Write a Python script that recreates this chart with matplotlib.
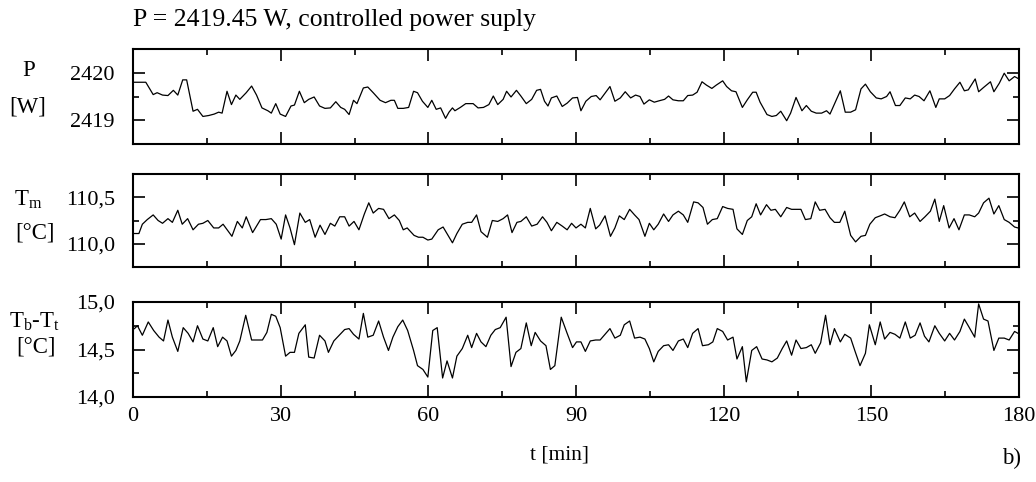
import matplotlib
matplotlib.use("Agg")
import matplotlib.pyplot as plt
from matplotlib.ticker import FixedLocator, FuncFormatter

plt.rcParams["font.family"] = ["Liberation Serif", "DejaVu Serif"]
plt.rcParams["mathtext.default"] = "regular"

# --- data (time in min) ---
t_P = [0.3, 1.2, 2.6, 4.1, 4.9, 6.0, 7.1, 8.2, 9.1, 10.1, 10.9, 12.2, 13.1, 14.2, 15.4, 16.5, 17.4, 18.1,
       19.1, 20.0, 20.9, 21.7, 23.0, 24.1, 25.1, 26.2, 27.4, 28.1, 29.0, 29.9, 31.0, 32.1, 32.8, 33.8, 34.8,
       35.7, 36.8, 37.9, 39.0, 40.1, 41.2, 42.2, 43.0, 43.9, 44.8, 45.5, 46.8, 47.7, 48.8, 50.2, 51.3, 52.4,
       53.1, 53.8, 54.9, 56.0, 57.0, 57.8, 58.8, 59.9, 60.7, 61.6, 62.5, 63.5, 64.2, 64.9, 65.4, 66.5, 67.6,
       69.1, 70.1, 71.2, 72.3, 73.2, 74.1, 75.2, 75.9, 76.8, 77.9, 78.8, 79.9, 81.0, 82.0, 82.8, 83.6, 84.3,
       85.0, 86.1, 87.2, 88.2, 89.3, 90.3, 91.0, 92.0, 93.1, 94.1, 94.9, 95.9, 96.9, 97.9, 99.0, 100.0,
       101.1, 102.1, 103.0, 103.8, 104.9, 105.9, 106.9, 108.0, 108.8, 109.7, 110.8, 111.8, 112.7, 113.7,
       114.6, 115.6, 116.5, 117.6, 118.5, 119.8, 120.6, 121.6, 122.5, 123.8, 124.8, 125.9, 126.6, 127.4,
       128.8, 129.8, 130.7, 131.6, 132.8, 133.6, 134.7, 135.9, 136.8, 137.8, 138.8, 139.9, 140.9, 141.6,
       142.5, 143.7, 144.7, 145.8, 146.8, 147.9, 148.8, 149.8, 151.0, 152.0, 153.1, 153.8, 154.9, 155.8,
       156.9, 157.9, 158.8, 159.7, 160.7, 161.9, 163.1, 163.8, 164.9, 165.9, 166.9, 168.0, 168.9, 169.7,
       171.1, 171.8, 172.8, 174.2, 174.9, 176.0, 177.0, 178.0, 179.1, 179.8]
P_W = [2419.80, 2419.80, 2419.80, 2419.54, 2419.58, 2419.53, 2419.52, 2419.63, 2419.53, 2419.85, 2419.85,
       2419.19, 2419.23, 2419.08, 2419.10, 2419.13, 2419.17, 2419.15, 2419.61, 2419.33, 2419.53, 2419.44,
       2419.58, 2419.72, 2419.53, 2419.26, 2419.20, 2419.15, 2419.35, 2419.13, 2419.08, 2419.30, 2419.32,
       2419.61, 2419.37, 2419.44, 2419.49, 2419.30, 2419.25, 2419.26, 2419.39, 2419.27, 2419.23, 2419.12,
       2419.42, 2419.35, 2419.68, 2419.70, 2419.58, 2419.42, 2419.37, 2419.42, 2419.42, 2419.25, 2419.25,
       2419.27, 2419.61, 2419.58, 2419.40, 2419.27, 2419.42, 2419.23, 2419.26, 2419.04, 2419.17, 2419.26,
       2419.20, 2419.27, 2419.35, 2419.35, 2419.26, 2419.27, 2419.33, 2419.51, 2419.33, 2419.44, 2419.61,
       2419.49, 2419.63, 2419.51, 2419.35, 2419.44, 2419.63, 2419.65, 2419.40, 2419.30, 2419.47, 2419.51,
       2419.29, 2419.36, 2419.47, 2419.48, 2419.20, 2419.40, 2419.50, 2419.52, 2419.43, 2419.57, 2419.71,
       2419.40, 2419.47, 2419.60, 2419.47, 2419.53, 2419.50, 2419.34, 2419.43, 2419.38, 2419.41, 2419.44,
       2419.51, 2419.43, 2419.41, 2419.41, 2419.52, 2419.53, 2419.59, 2419.81, 2419.74, 2419.67, 2419.74,
       2419.83, 2419.71, 2419.62, 2419.60, 2419.27, 2419.43, 2419.59, 2419.59, 2419.38, 2419.12, 2419.08,
       2419.10, 2419.19, 2418.99, 2419.15, 2419.48, 2419.20, 2419.31, 2419.19, 2419.15, 2419.15, 2419.20,
       2419.13, 2419.34, 2419.62, 2419.17, 2419.17, 2419.22, 2419.66, 2419.76, 2419.60, 2419.47, 2419.45,
       2419.50, 2419.60, 2419.31, 2419.31, 2419.47, 2419.45, 2419.53, 2419.50, 2419.41, 2419.62, 2419.27,
       2419.45, 2419.45, 2419.52, 2419.66, 2419.80, 2419.62, 2419.64, 2419.87, 2419.60, 2419.69, 2419.81,
       2419.60, 2419.78, 2419.99, 2419.83, 2419.92, 2419.88]

t_Tm = [0.3, 1.2, 1.9, 2.9, 4.1, 5.1, 6.0, 7.1, 8.0, 9.1, 10.0, 11.1, 12.2, 13.3, 14.2, 15.2, 16.4, 17.4,
        18.3, 20.1, 21.2, 22.2, 23.0, 24.3, 25.9, 27.0, 28.1, 29.1, 30.1, 31.0, 31.9, 32.8, 33.9, 35.0,
        35.9, 37.0, 38.0, 39.0, 40.1, 41.0, 42.0, 43.0, 43.9, 44.9, 45.9, 47.0, 47.9, 48.8, 49.9, 50.9,
        52.0, 53.1, 54.1, 54.9, 55.7, 57.1, 58.0, 58.9, 59.9, 60.7, 62.0, 63.0, 64.0, 64.9, 65.8, 66.9,
        68.0, 68.8, 69.8, 70.7, 72.0, 73.0, 74.1, 75.2, 76.1, 77.0, 78.0, 78.8, 79.9, 81.0, 82.1, 83.2,
        84.1, 85.0, 86.1, 87.2, 88.2, 89.1, 90.0, 91.0, 91.9, 92.9, 94.0, 94.8, 95.9, 97.0, 97.9, 98.8,
        99.8, 100.9, 101.9, 102.8, 104.0, 104.9, 105.8, 106.7, 107.8, 108.8, 109.7, 110.8, 111.8, 112.7,
        113.9, 114.8, 115.8, 116.7, 117.7, 118.7, 119.8, 120.8, 121.9, 122.7, 123.8, 124.8, 125.7, 126.6,
        127.5, 128.7, 129.6, 130.5, 131.6, 132.8, 133.8, 134.7, 135.7, 136.6, 137.7, 138.6, 139.5, 140.6,
        141.6, 142.5, 143.6, 144.6, 145.8, 146.8, 147.9, 148.8, 149.7, 150.8, 151.8, 152.7, 153.8, 154.8,
        155.8, 156.7, 157.8, 158.8, 159.9, 160.9, 162.0, 162.9, 163.8, 164.7, 165.8, 166.8, 167.8, 168.9,
        169.9, 171.0, 171.8, 172.8, 173.9, 174.9, 175.9, 177.0, 178.0, 179.1, 179.8]
Tm = [110.11, 110.11, 110.21, 110.26, 110.31, 110.25, 110.22, 110.27, 110.23, 110.36, 110.21, 110.27,
      110.15, 110.21, 110.22, 110.25, 110.17, 110.17, 110.21, 110.08, 110.24, 110.17, 110.29, 110.12,
      110.26, 110.26, 110.27, 110.21, 110.05, 110.31, 110.17, 109.99, 110.33, 110.23, 110.26, 110.07,
      110.20, 110.10, 110.22, 110.19, 110.29, 110.29, 110.19, 110.24, 110.15, 110.32, 110.44, 110.33,
      110.38, 110.37, 110.27, 110.31, 110.25, 110.15, 110.17, 110.09, 110.07, 110.07, 110.04, 110.05,
      110.15, 110.18, 110.09, 110.01, 110.11, 110.21, 110.23, 110.23, 110.31, 110.13, 110.07, 110.25,
      110.24, 110.27, 110.31, 110.12, 110.23, 110.24, 110.29, 110.19, 110.21, 110.29, 110.23, 110.14,
      110.23, 110.19, 110.15, 110.22, 110.17, 110.21, 110.17, 110.38, 110.16, 110.20, 110.30, 110.08,
      110.17, 110.30, 110.26, 110.37, 110.31, 110.26, 110.08, 110.22, 110.15, 110.21, 110.32, 110.24,
      110.31, 110.35, 110.31, 110.23, 110.45, 110.44, 110.39, 110.21, 110.26, 110.27, 110.40, 110.38,
      110.37, 110.16, 110.10, 110.25, 110.29, 110.43, 110.31, 110.42, 110.36, 110.37, 110.29, 110.39,
      110.37, 110.37, 110.37, 110.26, 110.27, 110.45, 110.36, 110.37, 110.28, 110.23, 110.23, 110.35,
      110.09, 110.02, 110.08, 110.09, 110.21, 110.28, 110.30, 110.32, 110.29, 110.28, 110.36, 110.45,
      110.29, 110.33, 110.24, 110.29, 110.35, 110.48, 110.24, 110.41, 110.17, 110.27, 110.15, 110.31,
      110.31, 110.29, 110.33, 110.44, 110.49, 110.32, 110.41, 110.26, 110.23, 110.18, 110.17]

t_dT = [0.3, 0.9, 1.9, 3.1, 4.2, 5.3, 6.2, 7.1, 8.0, 9.1, 10.2, 11.2, 12.2, 13.1, 14.2, 15.2, 16.3, 17.2,
        18.2, 19.1, 20.0, 20.9, 21.7, 22.9, 24.1, 25.4, 26.3, 27.2, 28.1, 29.0, 29.9, 31.0, 31.9, 32.8,
        33.7, 35.0, 35.7, 36.8, 37.9, 39.0, 39.7, 40.8, 41.9, 43.0, 43.9, 44.8, 45.9, 46.8, 47.7, 48.8,
        49.9, 50.9, 51.9, 52.8, 53.8, 54.8, 55.8, 57.0, 57.8, 58.9, 59.9, 60.9, 61.8, 62.9, 63.8, 64.9,
        65.8, 66.9, 68.0, 68.8, 69.8, 70.7, 71.7, 72.7, 73.6, 74.6, 75.8, 76.8, 77.8, 78.8, 79.9, 80.9,
        81.7, 82.8, 83.9, 84.8, 85.7, 87.0, 88.2, 89.3, 90.1, 91.0, 91.9, 92.9, 94.0, 94.9, 95.9, 96.9,
        97.9, 99.0, 99.8, 100.9, 101.9, 103.0, 104.0, 104.9, 105.8, 106.7, 107.8, 108.8, 109.7, 110.8,
        111.8, 112.7, 113.7, 114.8, 115.7, 116.9, 117.8, 118.7, 119.8, 120.8, 121.9, 122.7, 123.8, 124.6,
        125.7, 126.7, 127.8, 128.8, 129.8, 130.9, 131.9, 132.8, 133.8, 134.7, 135.7, 136.8, 137.8, 138.6,
        139.7, 140.7, 141.6, 142.5, 143.7, 144.6, 145.8, 146.7, 147.7, 148.8, 149.6, 150.8, 151.8, 152.7,
        153.8, 154.8, 155.8, 156.9, 157.9, 158.9, 159.9, 160.8, 161.7, 162.9, 163.8, 164.9, 165.9, 166.9,
        168.0, 168.9, 169.8, 171.0, 171.8, 172.8, 173.7, 174.9, 175.9, 177.0, 178.0, 179.1, 179.8]
dT = [14.72, 14.75, 14.65, 14.79, 14.70, 14.63, 14.59, 14.81, 14.63, 14.48, 14.73, 14.67, 14.58, 14.75,
      14.61, 14.59, 14.73, 14.53, 14.63, 14.59, 14.43, 14.49, 14.59, 14.86, 14.60, 14.60, 14.60, 14.68,
      14.87, 14.85, 14.73, 14.43, 14.47, 14.47, 14.67, 14.76, 14.42, 14.41, 14.65, 14.59, 14.47, 14.59,
      14.65, 14.71, 14.72, 14.66, 14.61, 14.88, 14.63, 14.65, 14.80, 14.63, 14.49, 14.63, 14.74, 14.81,
      14.70, 14.49, 14.33, 14.29, 14.21, 14.70, 14.73, 14.20, 14.38, 14.20, 14.43, 14.51, 14.65, 14.52,
      14.67, 14.58, 14.53, 14.65, 14.71, 14.73, 14.84, 14.32, 14.47, 14.51, 14.78, 14.54, 14.68, 14.59,
      14.54, 14.29, 14.33, 14.84, 14.67, 14.52, 14.58, 14.58, 14.48, 14.59, 14.60, 14.60, 14.66, 14.72,
      14.62, 14.65, 14.76, 14.80, 14.62, 14.63, 14.61, 14.51, 14.37, 14.48, 14.54, 14.55, 14.49, 14.59,
      14.61, 14.52, 14.67, 14.72, 14.54, 14.55, 14.58, 14.72, 14.69, 14.60, 14.63, 14.40, 14.53, 14.16,
      14.49, 14.53, 14.40, 14.39, 14.37, 14.41, 14.51, 14.59, 14.44, 14.60, 14.51, 14.52, 14.55, 14.46,
      14.57, 14.86, 14.55, 14.72, 14.58, 14.66, 14.62, 14.48, 14.33, 14.46, 14.76, 14.55, 14.79, 14.61,
      14.68, 14.66, 14.62, 14.79, 14.62, 14.65, 14.78, 14.64, 14.58, 14.75, 14.67, 14.59, 14.67, 14.60,
      14.69, 14.82, 14.74, 14.63, 14.98, 14.82, 14.80, 14.49, 14.62, 14.62, 14.60, 14.69, 14.67]

x_major = [0, 30, 60, 90, 120, 150, 180]
x_minor = [15, 45, 75, 105, 135, 165]

W, H = 1036, 482
fig = plt.figure(figsize=(W / 100, H / 100), dpi=100)


def fx(x):
    return x / W


def fy(y):
    return 1 - y / H


def panel(top, bottom, t, y, ylim, ymaj, ymin, fmt):
    ax = fig.add_axes([fx(133), fy(bottom), fx(1019 - 133), (bottom - top) / H])
    ax.plot(t, y, color="black", lw=0.9)
    ax.set_xlim(0, 180)
    ax.set_ylim(*ylim)
    ax.xaxis.set_major_locator(FixedLocator(x_major))
    ax.xaxis.set_minor_locator(FixedLocator(x_minor))
    ax.yaxis.set_major_locator(FixedLocator(ymaj))
    ax.yaxis.set_minor_locator(FixedLocator(ymin))
    ax.yaxis.set_major_formatter(FuncFormatter(fmt))
    ax.tick_params(which="both", direction="in", top=True, right=True, width=1.2, labelsize=16)
    ax.tick_params(which="major", length=8.5)
    ax.tick_params(which="minor", length=4.5)
    ax.tick_params(axis="y", pad=13)
    ax.tick_params(axis="x", pad=7)
    for s in ax.spines.values():
        s.set_linewidth(1.5)
    return ax


ax1 = panel(49, 144, t_P, P_W, (2418.5, 2420.5), [2419, 2420], [2419.5],
            lambda v, p: f"{v:.0f}")
ax2 = panel(174, 267, t_Tm, Tm, (109.75, 110.75), [110.0, 110.5], [110.25],
            lambda v, p: f"{v:.1f}".replace(".", ","))
ax3 = panel(302, 397, t_dT, dT, (14.0, 15.0), [14.0, 14.5, 15.0], [14.25, 14.75],
            lambda v, p: f"{v:.1f}".replace(".", ","))
ax1.tick_params(labelbottom=False)
ax2.tick_params(labelbottom=False)

fig.text(fx(133), fy(20), "P = 2419.45 W, controlled power suply", ha="left", va="center", fontsize=18.5)

lab = dict(ha="center", va="center", fontsize=16.5)
fig.text(fx(29), fy(70), "P", **lab)
fig.text(fx(28), fy(107), "[W]", **lab)
fig.text(fx(28), fy(200), r"$\mathregular{T_m}$", **lab)
fig.text(fx(35), fy(233), "[°C]", **lab)
fig.text(fx(34), fy(322), r"$\mathregular{T_b}$-$\mathregular{T_t}$", **lab)
fig.text(fx(36), fy(347), "[°C]", **lab)

fig.text(fx(560), fy(455), "t [min]", ha="center", va="center", fontsize=15.5)
fig.text(fx(1012), fy(458), "b)", ha="center", va="center", fontsize=16.5)

fig.savefig("out.png", dpi=100)
